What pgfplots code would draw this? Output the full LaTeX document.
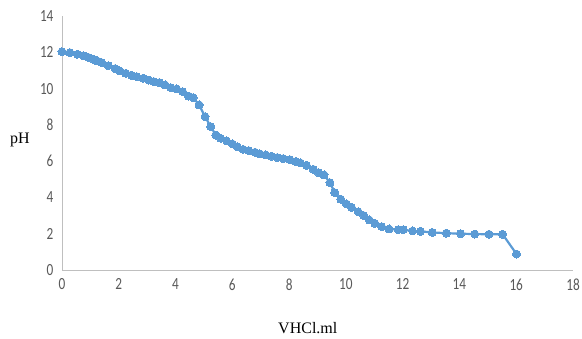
\documentclass[border=0pt]{standalone}
\usepackage{pgfplots}
\pgfplotsset{compat=1.18}
\usepackage{fontspec}
\setmainfont{Liberation Serif}
\newfontfamily\tickfont{Carlito}
\definecolor{serblue}{HTML}{5B9BD5}
\definecolor{tickgray}{HTML}{595959}
\definecolor{axgray}{HTML}{BFBFBF}
\pgfplotstableread{
x y
0 12.03
0.28 11.98
0.54 11.89
0.75 11.81
0.93 11.72
1.10 11.62
1.24 11.52
1.40 11.43
1.63 11.26
1.87 11.10
2.04 10.97
2.25 10.84
2.45 10.73
2.63 10.66
2.86 10.57
3.06 10.47
3.24 10.38
3.43 10.33
3.63 10.20
3.83 10.05
4.04 9.98
4.25 9.83
4.45 9.59
4.62 9.50
4.83 9.10
5.04 8.45
5.24 7.90
5.42 7.44
5.59 7.26
5.80 7.11
6.00 6.95
6.17 6.80
6.38 6.65
6.58 6.58
6.80 6.49
6.97 6.40
7.18 6.34
7.38 6.27
7.58 6.20
7.79 6.14
8.03 6.08
8.24 5.98
8.40 5.90
8.61 5.77
8.85 5.55
9.03 5.37
9.23 5.24
9.44 4.81
9.61 4.26
9.82 3.90
10.02 3.64
10.20 3.45
10.43 3.21
10.63 3.00
10.82 2.76
11.02 2.57
11.26 2.39
11.52 2.26
11.84 2.22
12.02 2.22
12.35 2.15
12.63 2.13
13.04 2.07
13.54 2.03
14.04 2.00
14.54 1.98
15.04 1.97
15.52 1.97
16.01 0.88
}\phdata
\begin{document}
\begin{tikzpicture}
\path[use as bounding box] (-62pt,-69pt) rectangle (520pt,270pt);
\begin{axis}[
  at={(0,0)}, anchor=south west,
  scale only axis,
  width=511pt, height=254pt,
  xmin=0, xmax=18, ymin=0, ymax=14,
  xtick={0,2,...,18}, ytick={0,2,...,14},
  axis x line*=bottom, axis y line*=left,
  axis line style={axgray, line width=0.8pt, -},
  major tick length=0pt,
  tick style={draw=none},
  /pgf/number format/assume math mode=true,
  xticklabel={\scalebox{0.78}[1]{\pgfmathprintnumber{\tick}}},
  yticklabel={\scalebox{0.78}[1]{\pgfmathprintnumber{\tick}}},
  tick label style={font=\tickfont\fontsize{17}{17}\selectfont, text=tickgray},
  xticklabel style={yshift=-5pt},
  yticklabel style={xshift=-5pt},
  xlabel={VHCl.ml},
  ylabel={pH},
  label style={font=\fontsize{16}{16}\selectfont, text=black},
  xlabel style={at={(axis description cs:0.481,0)}, anchor=center, yshift=-58pt},
  ylabel style={rotate=-90, at={(axis description cs:0,0.512)}, anchor=center, xshift=-42pt},
  clip=false,
]
\addplot[serblue, line width=2.2pt, mark=*, mark size=4pt, mark options={fill=serblue, draw=serblue, line width=0pt}] table[x=x, y=y] {\phdata};
\end{axis}
\end{tikzpicture}
\end{document}
